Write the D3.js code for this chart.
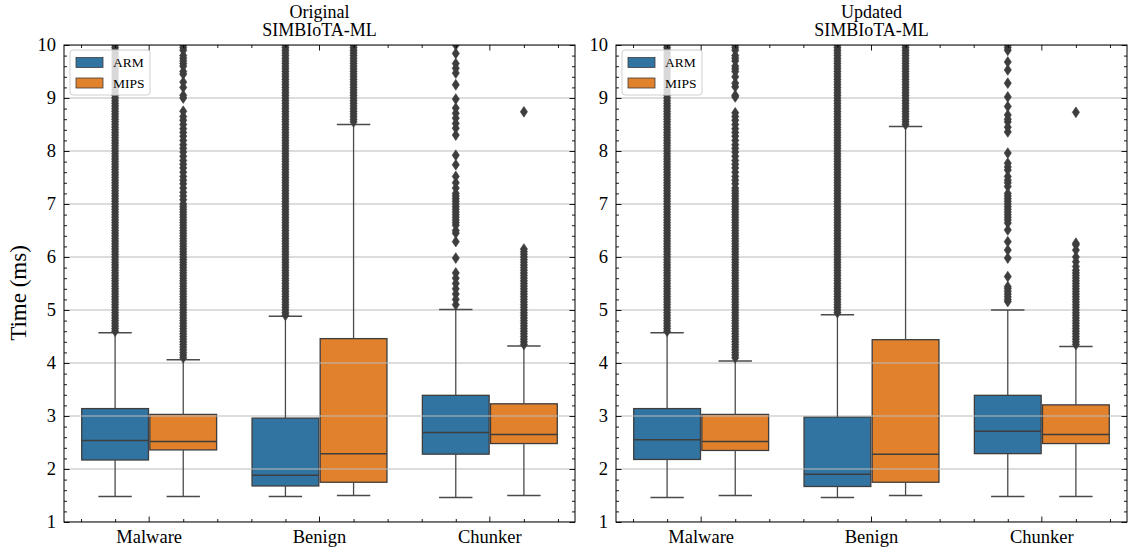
<!DOCTYPE html>
<html>
<head>
<meta charset="utf-8">
<script src="https://cdn.jsdelivr.net/npm/d3@7"></script>
<style>
  body { margin: 0; background: #fff; }
  svg { display: block; }
  svg text { font-family: "Liberation Serif", "Times New Roman", serif !important; fill: #000; }
</style>
</head>
<body>
<svg id="chart" width="1130" height="552" font-family="Liberation Serif"></svg>
<script>
// ---- data ----
const categories = ["Malware", "Benign", "Chunker"];
const platforms = ["ARM", "MIPS"];
const yTickValues = [1, 2, 3, 4, 5, 6, 7, 8, 9, 10];
const titleOriginal = ["Original", "SIMBIoTA-ML"];
const titleUpdated = ["Updated", "SIMBIoTA-ML"];
const yLabel = "Time (ms)";

// box statistics per category: [lower whisker, Q1, median, Q3, upper whisker]
const originalArmStats = [
  [1.48, 2.17, 2.54, 3.14, 4.57],
  [1.48, 1.68, 1.88, 2.96, 4.88],
  [1.46, 2.28, 2.69, 3.39, 5.01]
];
const originalMipsStats = [
  [1.48, 2.36, 2.52, 3.03, 4.06],
  [1.50, 1.75, 2.29, 4.46, 8.50],
  [1.50, 2.48, 2.65, 3.23, 4.32]
];
const updatedArmStats = [
  [1.46, 2.18, 2.55, 3.14, 4.57],
  [1.46, 1.67, 1.90, 2.98, 4.91],
  [1.48, 2.29, 2.71, 3.39, 5.00]
];
const updatedMipsStats = [
  [1.50, 2.35, 2.52, 3.03, 4.04],
  [1.50, 1.75, 2.28, 4.44, 8.46],
  [1.48, 2.48, 2.65, 3.21, 4.31]
];

// outlier observations (ms) per category
const originalArmFliers = [
  [4.6,4.65,4.7,4.75,4.8,4.85,4.9,4.95,5,5.05,5.1,5.15,5.2,5.25,5.3,5.35,5.4,5.45,5.5,5.55,5.6,5.65,5.7,5.75,5.8,5.85,5.9,5.95,
   6,6.05,6.1,6.15,6.2,6.25,6.3,6.35,6.4,6.45,6.5,6.55,6.6,6.65,6.7,6.75,6.8,6.85,6.9,6.95,7,7.05,7.1,7.15,7.2,7.25,7.3,7.35,7.4,7.45,
   7.5,7.55,7.6,7.65,7.7,7.75,7.8,7.85,7.9,7.95,8,8.05,8.1,8.15,8.2,8.25,8.3,8.35,8.4,8.45,8.5,8.55,8.6,8.65,8.7,8.75,8.8,8.85,8.9,8.95,
   9,9.05,9.1,9.15,9.2,9.25,9.3,9.35,9.4,9.45,9.5,9.55,9.6,9.65,9.7,9.75,9.8,9.85,9.9,9.95,10],
  [4.9,4.95,5,5.05,5.1,5.15,5.2,5.25,5.3,5.35,5.4,5.45,5.5,5.55,5.6,5.65,5.7,5.75,5.8,5.85,5.9,5.95,
   6,6.05,6.1,6.15,6.2,6.25,6.3,6.35,6.4,6.45,6.5,6.55,6.6,6.65,6.7,6.75,6.8,6.85,6.9,6.95,7,7.05,7.1,7.15,7.2,7.25,7.3,7.35,7.4,7.45,
   7.5,7.55,7.6,7.65,7.7,7.75,7.8,7.85,7.9,7.95,8,8.05,8.1,8.15,8.2,8.25,8.3,8.35,8.4,8.45,8.5,8.55,8.6,8.65,8.7,8.75,8.8,8.85,8.9,8.95,
   9,9.05,9.1,9.15,9.2,9.25,9.3,9.35,9.4,9.45,9.5,9.55,9.6,9.65,9.7,9.75,9.8,9.85,9.9,9.95,10],
  [5.1,5.2,5.3,5.4,5.5,5.6,5.7,5.98,6.29,6.45,6.5,6.6,6.65,6.7,6.75,6.8,6.85,6.9,6.95,7,7.05,7.1,7.15,7.2,7.3,7.4,7.52,
   7.74,7.92,8.3,8.43,8.52,8.62,8.71,8.81,8.98,9.25,9.47,9.56,9.65,9.84,10]
];
const originalMipsFliers = [
  [4.1,4.15,4.2,4.25,4.3,4.35,4.4,4.45,4.5,4.55,4.6,4.65,4.7,4.75,4.8,4.85,4.9,4.95,5,5.05,5.1,5.15,5.2,5.25,5.3,5.35,5.4,5.45,
   5.5,5.55,5.6,5.65,5.7,5.75,5.8,5.85,5.9,5.95,6,6.05,6.1,6.15,6.2,6.25,6.3,6.35,6.4,6.45,6.5,6.55,6.6,6.65,6.7,6.75,6.8,6.85,6.9,6.95,
   7,7.08,7.15,7.22,7.3,7.38,7.45,7.52,7.6,7.68,7.75,7.82,7.9,7.98,8.05,8.12,8.2,8.28,8.35,8.42,8.5,8.58,8.65,8.75,
   9,9.05,9.2,9.3,9.45,9.5,9.6,9.65,9.7,9.75,9.8,9.9,9.95,10],
  [8.55,8.6,8.65,8.7,8.75,8.8,8.85,8.9,8.95,9,9.05,9.1,9.15,9.2,9.25,9.3,9.35,9.4,9.45,9.5,9.55,9.6,9.65,9.7,9.75,9.8,9.85,9.9,9.95,10],
  [4.35,4.4,4.45,4.5,4.55,4.6,4.65,4.7,4.75,4.8,4.85,4.9,4.95,5,5.05,5.1,5.15,5.2,5.25,5.3,5.35,5.4,5.45,5.5,5.55,5.6,5.65,5.7,
   5.75,5.8,5.85,5.9,5.95,6,6.05,6.1,6.15,8.74]
];
const updatedArmFliers = [
  [4.6,4.65,4.7,4.75,4.8,4.85,4.9,4.95,5,5.05,5.1,5.15,5.2,5.25,5.3,5.35,5.4,5.45,5.5,5.55,5.6,5.65,5.7,5.75,5.8,5.85,5.9,5.95,
   6,6.05,6.1,6.15,6.2,6.25,6.3,6.35,6.4,6.45,6.5,6.55,6.6,6.65,6.7,6.75,6.8,6.85,6.9,6.95,7,7.05,7.1,7.15,7.2,7.25,7.3,7.35,7.4,7.45,
   7.5,7.55,7.6,7.65,7.7,7.75,7.8,7.85,7.9,7.95,8,8.05,8.1,8.15,8.2,8.25,8.3,8.35,8.4,8.45,8.5,8.55,8.6,8.65,8.7,8.75,8.8,8.85,8.9,8.95,
   9,9.05,9.1,9.15,9.2,9.25,9.3,9.35,9.4,9.45,9.5,9.55,9.6,9.65,9.7,9.75,9.8,9.85,9.9,9.95,10],
  [4.95,5,5.05,5.1,5.15,5.2,5.25,5.3,5.35,5.4,5.45,5.5,5.55,5.6,5.65,5.7,5.75,5.8,5.85,5.9,5.95,
   6,6.05,6.1,6.15,6.2,6.25,6.3,6.35,6.4,6.45,6.5,6.55,6.6,6.65,6.7,6.75,6.8,6.85,6.9,6.95,7,7.05,7.1,7.15,7.2,7.25,7.3,7.35,7.4,7.45,
   7.5,7.55,7.6,7.65,7.7,7.75,7.8,7.85,7.9,7.95,8,8.05,8.1,8.15,8.2,8.25,8.3,8.35,8.4,8.45,8.5,8.55,8.6,8.65,8.7,8.75,8.8,8.85,8.9,8.95,
   9,9.05,9.1,9.15,9.2,9.25,9.3,9.35,9.4,9.45,9.5,9.55,9.6,9.65,9.7,9.75,9.8,9.85,9.9,9.95,10],
  [5.16,5.2,5.25,5.3,5.35,5.4,5.44,5.63,5.98,6.13,6.29,6.51,6.64,6.7,6.75,6.8,6.85,6.9,6.95,7,7.05,7.1,7.15,7.2,7.33,7.4,7.45,7.52,
   7.64,7.7,7.77,7.96,8.36,8.45,8.55,8.6,8.68,8.84,9.02,9.28,9.53,9.68,9.9,9.95,10]
];
const updatedMipsFliers = [
  [4.1,4.15,4.2,4.25,4.3,4.35,4.4,4.45,4.5,4.55,4.6,4.65,4.7,4.75,4.8,4.85,4.9,4.95,5,5.05,5.1,5.15,5.2,5.25,5.3,5.35,5.4,5.45,
   5.5,5.55,5.6,5.65,5.7,5.75,5.8,5.85,5.9,5.95,6,6.05,6.1,6.15,6.2,6.25,6.3,6.35,6.4,6.45,6.5,6.55,6.6,6.65,6.7,6.75,6.8,6.85,6.9,6.95,
   7,7.05,7.1,7.15,7.2,7.25,7.3,7.38,7.45,7.52,7.6,7.68,7.75,7.82,7.9,7.98,8.05,8.12,8.2,8.28,8.35,8.42,8.5,8.58,8.65,8.72,
   9.02,9.05,9.21,9.28,9.4,9.5,9.55,9.6,9.7,9.75,9.8,9.9,9.95,10],
  [8.5,8.55,8.6,8.65,8.7,8.75,8.8,8.85,8.9,8.95,9,9.05,9.1,9.15,9.2,9.25,9.3,9.35,9.4,9.45,9.5,9.55,9.6,9.65,9.7,9.75,9.8,9.85,9.9,9.95,10],
  [4.35,4.4,4.45,4.5,4.55,4.6,4.65,4.7,4.75,4.8,4.85,4.9,4.95,5,5.05,5.1,5.15,5.2,5.25,5.3,5.35,5.4,5.45,5.5,5.55,5.6,5.65,5.7,5.75,
   5.82,5.91,6,6.13,6.23,6.26,8.73]
];

// ---- layout & style ----
const plotTop = 45, plotBottom = 522;
const serif = "Liberation Serif";
const boxLine = "#3d3d3d";
const boxFill = { ARM: "#3274a1", MIPS: "#e1812c" };
const panels = [
  { left: 64, right: 575, title: titleOriginal, arm: originalArmStats, mips: originalMipsStats,
    armFliers: originalArmFliers, mipsFliers: originalMipsFliers },
  { left: 616, right: 1127, title: titleUpdated, arm: updatedArmStats, mips: updatedMipsStats,
    armFliers: updatedArmFliers, mipsFliers: updatedMipsFliers }
];

const svg = d3.select("#chart");
const y = d3.scaleLinear().domain([1, 10]).range([plotBottom, plotTop]);
const yMinor = d3.range(5, 50).filter(k => k % 5 !== 0).map(k => k / 5);
const xMinorVals = d3.range(0, 15).filter(k => (k - 2) % 5 !== 0).map(k => (k - 2) / 5);

// thin diamond marker used for outliers
const diamond = "M0,-5.4L3.6,0L0,5.4L-3.6,0Z";

panels.forEach((p, i) => {
  const g = svg.append("g");
  const x = d3.scaleBand().domain(categories).range([p.left, p.right]).padding(0);
  const xLin = d3.scaleLinear().domain([-0.5, 2.5]).range([p.left, p.right]);
  const inner = d3.scaleBand().domain(platforms)
    .range([0.1 * x.bandwidth(), 0.9 * x.bandwidth()]).padding(0);
  const boxW = inner.bandwidth() * 0.98;

  const clipId = "plotclip" + i;
  svg.append("clipPath").attr("id", clipId).append("rect")
    .attr("x", p.left).attr("y", plotTop)
    .attr("width", p.right - p.left).attr("height", plotBottom - plotTop);

  const records = [];
  categories.forEach((c, ci) => {
    records.push({ cat: c, plat: "ARM", s: p.arm[ci], fl: p.armFliers[ci] });
    records.push({ cat: c, plat: "MIPS", s: p.mips[ci], fl: p.mipsFliers[ci] });
  });
  const cx = d => x(d.cat) + inner(d.plat) + inner.bandwidth() / 2;

  const plot = g.append("g").attr("clip-path", `url(#${clipId})`);

  // boxes
  plot.selectAll("rect.box").data(records).join("rect")
    .attr("class", "box")
    .attr("x", d => cx(d) - boxW / 2)
    .attr("width", boxW)
    .attr("y", d => y(d.s[3]))
    .attr("height", d => y(d.s[1]) - y(d.s[3]))
    .attr("fill", d => boxFill[d.plat])
    .attr("stroke", boxLine).attr("stroke-width", 1.3);

  // horizontal grid
  plot.selectAll("line.grid").data(yTickValues).join("line")
    .attr("class", "grid")
    .attr("x1", p.left).attr("x2", p.right)
    .attr("y1", d => y(d)).attr("y2", d => y(d))
    .attr("stroke", "#bcbcbc").attr("stroke-width", 1.2);

  // whiskers
  plot.selectAll("line.wlo").data(records).join("line")
    .attr("x1", cx).attr("x2", cx)
    .attr("y1", d => y(d.s[1])).attr("y2", d => y(d.s[0]))
    .attr("stroke", "#4a4a4a").attr("stroke-width", 1.3);
  plot.selectAll("line.whi").data(records).join("line")
    .attr("x1", cx).attr("x2", cx)
    .attr("y1", d => y(d.s[3])).attr("y2", d => y(d.s[4]))
    .attr("stroke", "#4a4a4a").attr("stroke-width", 1.3);
  // caps
  [0, 4].forEach(k => {
    plot.selectAll(null).data(records).join("line")
      .attr("x1", d => cx(d) - boxW / 4).attr("x2", d => cx(d) + boxW / 4)
      .attr("y1", d => y(d.s[k])).attr("y2", d => y(d.s[k]))
      .attr("stroke", "#4a4a4a").attr("stroke-width", 1.5);
  });
  // medians
  plot.selectAll(null).data(records).join("line")
    .attr("x1", d => cx(d) - boxW / 2).attr("x2", d => cx(d) + boxW / 2)
    .attr("y1", d => y(d.s[2])).attr("y2", d => y(d.s[2]))
    .attr("stroke", boxLine).attr("stroke-width", 1.5);

  // outliers
  const pts = records.flatMap(d => d.fl.map(v => ({ x: cx(d), v })));
  plot.selectAll("path.flier").data(pts).join("path")
    .attr("class", "flier")
    .attr("d", diamond)
    .attr("transform", d => `translate(${d.x},${y(d.v)})`)
    .attr("fill", boxLine).attr("stroke", boxLine).attr("stroke-width", 0.6);

  // axes (ticks point inward on all four sides)
  const ax = g.append("g").attr("class", "axes");
  const left = ax.append("g").attr("transform", `translate(${p.left},0)`)
    .call(d3.axisLeft(y).tickValues(yTickValues).tickFormat(d3.format("d"))
      .tickSizeInner(-5.5).tickSizeOuter(0).tickPadding(8));
  ax.append("g").attr("transform", `translate(${p.left},0)`)
    .call(d3.axisLeft(y).tickValues(yMinor).tickFormat("").tickSizeInner(-3).tickSizeOuter(0));
  ax.append("g").attr("transform", `translate(${p.right},0)`)
    .call(d3.axisRight(y).tickValues(yTickValues).tickFormat("").tickSizeInner(-5.5).tickSizeOuter(0));
  ax.append("g").attr("transform", `translate(${p.right},0)`)
    .call(d3.axisRight(y).tickValues(yMinor).tickFormat("").tickSizeInner(-3).tickSizeOuter(0));
  const bottom = ax.append("g").attr("transform", `translate(0,${plotBottom})`)
    .call(d3.axisBottom(x).tickSizeInner(-5.5).tickSizeOuter(0).tickPadding(8));
  ax.append("g").attr("transform", `translate(0,${plotBottom})`)
    .call(d3.axisBottom(xLin).tickValues(xMinorVals).tickFormat("").tickSizeInner(-3).tickSizeOuter(0));
  ax.append("g").attr("transform", `translate(0,${plotTop})`)
    .call(d3.axisTop(x).tickFormat("").tickSizeInner(-5.5).tickSizeOuter(0));
  ax.append("g").attr("transform", `translate(0,${plotTop})`)
    .call(d3.axisTop(xLin).tickValues(xMinorVals).tickFormat("").tickSizeInner(-3).tickSizeOuter(0));
  ax.selectAll(".domain").remove();
  ax.selectAll("g").attr("font-family", serif).attr("font-size", 18.5);
  ax.selectAll(".tick line").attr("stroke", "#000").attr("stroke-width", 0.9);
  ax.selectAll(".tick text").attr("fill", "#000")
    .attr("font-family", serif).attr("font-size", 18.5);

  // frame
  g.append("rect")
    .attr("x", p.left).attr("y", plotTop)
    .attr("width", p.right - p.left).attr("height", plotBottom - plotTop)
    .attr("fill", "none").attr("stroke", "#000").attr("stroke-width", 1);

  // legend
  const lg = g.append("g").attr("transform", `translate(${p.left + 6},${plotTop + 5})`);
  lg.append("rect").attr("width", 80).attr("height", 45).attr("rx", 3)
    .attr("fill", "#fff").attr("fill-opacity", 0.8)
    .attr("stroke", "#d0d0d0").attr("stroke-width", 1);
  platforms.forEach((pl, k) => {
    lg.append("rect").attr("x", 6).attr("y", 7.5 + k * 20.5).attr("width", 27).attr("height", 10)
      .attr("fill", boxFill[pl]).attr("stroke", boxLine).attr("stroke-width", 0.8);
    lg.append("text").attr("x", 43).attr("y", 17 + k * 20.5)
      .attr("font-family", serif).attr("font-size", 13.5).text(pl);
  });

  // title
  const tx = (p.left + p.right) / 2;
  p.title.forEach((t, k) => {
    g.append("text").attr("x", tx).attr("y", 17.5 + k * 18.5)
      .attr("text-anchor", "middle").attr("font-family", serif).attr("font-size", 18).text(t);
  });
});

// shared y label
svg.append("text")
  .attr("transform", "translate(26,293) rotate(-90)")
  .attr("text-anchor", "middle")
  .attr("font-family", serif)
  .attr("font-size", 23)
  .text(yLabel);
</script>
</body>
</html>
